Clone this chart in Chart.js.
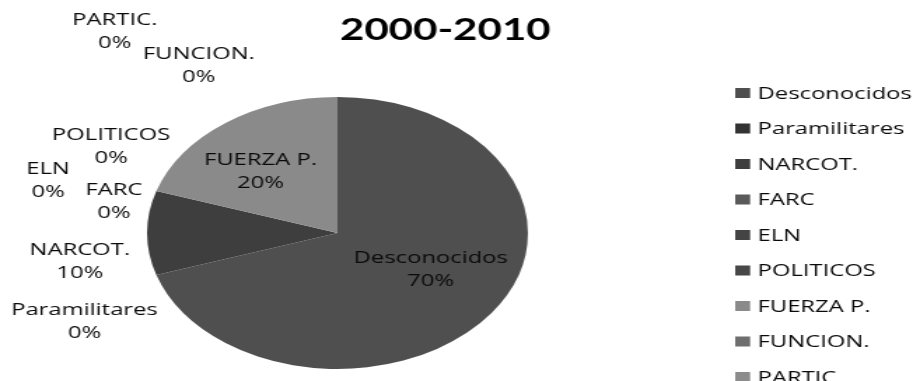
<!DOCTYPE html>
<html>
<head>
<meta charset="utf-8">
<script src="https://cdn.jsdelivr.net/npm/chart.js@4.4.1/dist/chart.umd.min.js"></script>
<style>
  html, body { margin: 0; padding: 0; background: #fff; overflow: hidden; }
  #wrap {
    width: 652px; height: 381px;
    transform: scaleX(1.4003); transform-origin: 0 0;
  }
</style>
</head>
<body>
<div id="wrap"><canvas id="myChart" width="652" height="381"></canvas></div>
<script>
// responsables de los casos, 2000-2010 (%)
const categorias = ["Desconocidos", "Paramilitares", "NARCOT.", "FARC", "ELN",
    "POLITICOS", "FUERZA P.", "FUNCION.", "PARTIC."];
const porcentajes = [70, 0, 10, 0, 0, 0, 20, 0, 0];
const titulo = "2000-2010";

const colores = ["#4f4f4f", "#333333", "#3e3e3e", "#5a5a5a", "#444444",
    "#474747", "#8a8a8a", "#6e6e6e", "#8c8c8c"];

// corrimiento de cada etiqueta respecto a su posicion base (px)
const ajuste = [[5, -8], [-19, 36], [-14, 29], [2, 21], [-45, 0],
    [0, -34], [-7, 5], [-99, 3], [-159, -31]];

const fuente = "'Open Sans', Lato, sans-serif";

const etiquetas = {
    id: "etiquetas",
    afterDraw(chart) {
        const ctx = chart.ctx;
        const meta = chart.getDatasetMeta(0);
        const total = porcentajes.reduce((a, b) => a + b, 0);
        ctx.save();

        // titulo
        ctx.fillStyle = "#000";
        ctx.font = "bold 30px Lato, sans-serif";
        ctx.textAlign = "center";
        ctx.textBaseline = "middle";
        ctx.fillText(titulo, 318, 30);

        // etiquetas de datos
        ctx.font = "17px " + fuente;
        ctx.fillStyle = "#0a0a0a";
        meta.data.forEach((arc, i) => {
            const p = arc.getProps(["x", "y", "startAngle", "endAngle", "outerRadius"], true);
            const mid = (p.startAngle + p.endAngle) / 2;
            const adentro = porcentajes[i] >= 15;
            const d = adentro ? (i == 0 ? 0.56 : 0.6) * p.outerRadius : 1.25 * p.outerRadius;
            const x = p.x + Math.cos(mid) * d + ajuste[i][0];
            const y = p.y + Math.sin(mid) * d + ajuste[i][1];
            const pct = Math.round(porcentajes[i] / total * 100) + "%";
            ctx.fillText(categorias[i], x, y - 11.5);
            ctx.fillText(pct, x, y + 11.5);
        });

        // leyenda
        ctx.textAlign = "left";
        categorias.forEach((c, i) => {
            const y = 93 + i * 35.5;
            ctx.fillStyle = colores[i];
            ctx.fillRect(525, y - 5, 10.7, 10);
            ctx.fillStyle = "#0a0a0a";
            ctx.fillText(c, 541, y + 1);
        });
        ctx.restore();
    }
};

const ctx = document.getElementById("myChart").getContext("2d");
new Chart(ctx, {
    type: "pie",
    data: {
        labels: categorias,
        datasets: [{
            data: porcentajes,
            backgroundColor: colores,
            borderWidth: 0,
        }],
    },
    options: {
        responsive: false,
        animation: false,
        layout: { padding: { top: 97, bottom: 12, left: 105, right: 275 } },
        plugins: {
            legend: { display: false },
            title: { display: false },
            tooltip: { enabled: false },
        },
    },
    plugins: [etiquetas],
});
</script>
</body>
</html>
